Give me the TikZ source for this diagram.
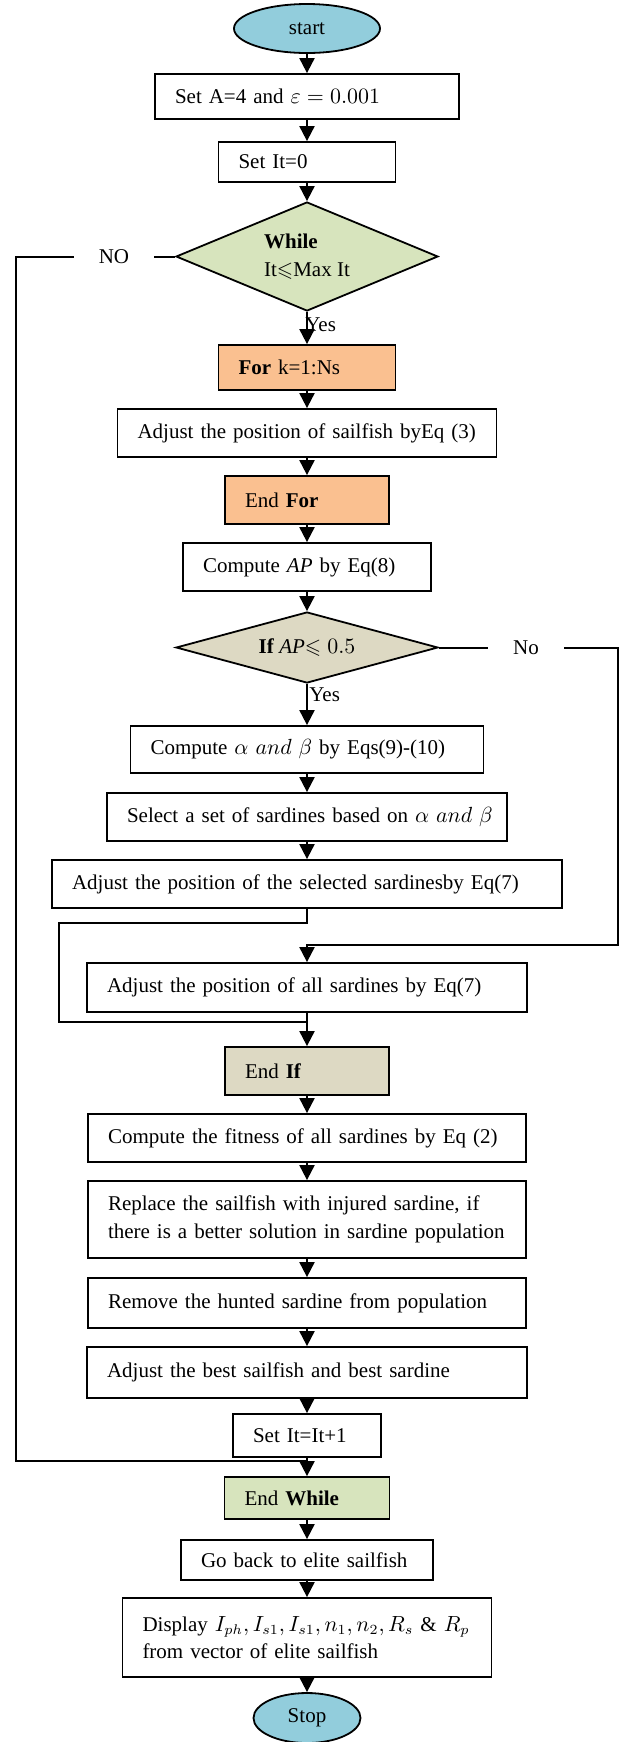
\documentclass[tikz,border=0pt]{standalone}
\usepackage{amsmath, amssymb}
\usepackage{fontspec}
\setmainfont{Liberation Serif}
\usepackage{tikz}
\usetikzlibrary{shapes.geometric, positioning, arrows.meta}
\definecolor{termblue}{RGB}{146,205,220}
\definecolor{loopgreen}{RGB}{215,228,189}
\definecolor{forpeach}{RGB}{250,192,144}
\definecolor{iftan}{RGB}{221,217,195}
\tikzset{
    flow box/.style = {draw, rectangle, line width=0.9pt, align=left, inner xsep=10pt, inner ysep=0pt},
    term/.style = {draw, ellipse, line width=0.9pt, fill=termblue, inner sep=0pt},
    cond/.style = {draw, diamond, line width=0.9pt, align=left, inner sep=0pt},
}
\tikzset{
    flow/.style = {draw, line width=1pt, -{Triangle[width=7.5pt, length=7.5pt]}},
    loop line/.style = {draw, line width=1pt},
}

\begin{document}
\begin{tikzpicture}[x=0.5pt, y=-0.5pt, every node/.style={on grid, font=\fontsize{10.5}{13.8}\selectfont}]
    \useasboundingbox (0,0) rectangle (620,1742);

    \node (start) [term, minimum width=73pt, minimum height=24.5pt] at (307,28.5) {start};
    \node (setA) [flow box, text width=132pt, minimum height=22.5pt, below=34pt of start] {Set A=4 and $\varepsilon = 0.001$};
    \node (setIt) [flow box, text width=68.5pt, minimum height=20pt, below=32.75pt of setA] {Set It=0};
    \node (while) [cond, fill=loopgreen, aspect=2.4, minimum width=131pt, minimum height=54.5pt, below=47.25pt of setIt] {\textbf{While}\\It$\leqslant$Max It};
    \node (for) [flow box, fill=forpeach, text width=68.5pt, minimum height=22.5pt, below=55.5pt of while] {\textbf{For} k=1:Ns};
    \node (adjSail) [flow box, text width=169.5pt, minimum height=24pt, below=32.75pt of for] {Adjust the position of sailfish byEq (3)};
    \node (endFor) [flow box, fill=forpeach, text width=62pt, minimum height=24pt, below=33.5pt of adjSail] {End \textbf{For}};
    \node (compAP) [flow box, text width=104pt, minimum height=24pt, below=33.5pt of endFor] {Compute \textit{AP} by Eq(8)};
    \node (ifAP) [cond, fill=iftan, aspect=3.7, minimum width=131pt, minimum height=35.5pt, below=40.25pt of compAP] {\textbf{If} \textit{AP}$\leqslant 0.5$};
    \node (compAB) [flow box, text width=156.5pt, minimum height=23.5pt, below=51pt of ifAP] {Compute $\alpha\ and\ \beta$ by Eqs(9)-(10)};
    \node (select) [flow box, text width=180pt, minimum height=24pt, below=33.75pt of compAB] {\mbox{Select a set of sardines based on $\alpha\ and\ \beta$}};
    \node (adjSel) [flow box, text width=235pt, minimum height=24pt, below=33.5pt of select] {Adjust the position of the selected sardinesby Eq(7)};
    \node (adjAll) [flow box, text width=200pt, minimum height=24.5pt, below=51.75pt of adjSel] {Adjust the position of all sardines by Eq(7)};
    \node (endIf) [flow box, fill=iftan, text width=62pt, minimum height=24pt, below=41.75pt of adjAll] {End \textbf{If}};
    \node (fitness) [flow box, text width=199pt, minimum height=24pt, below=33.5pt of endIf] {Compute the fitness of all sardines by Eq (2)};
    \node (replace) [flow box, text width=199pt, minimum height=38.5pt, below=40.75pt of fitness] {Replace the sailfish with injured sardine, if\\there is a better solution in sardine population};
    \node (remove) [flow box, text width=199pt, minimum height=25pt, below=41.75pt of replace] {Remove the hunted sardine from population};
    \node (adjBest) [flow box, text width=200pt, minimum height=25.5pt, below=34.75pt of remove] {Adjust the best sailfish and best sardine};
    \node (setIt1) [flow box, text width=54pt, minimum height=21.5pt, below=31.5pt of adjBest] {Set It=It+1};
    \node (endWhile) [flow box, fill=loopgreen, text width=62.5pt, minimum height=21pt, below=31.25pt of setIt1] {End \textbf{While}};
    \node (goBack) [flow box, text width=106pt, minimum height=20pt, below=31pt of endWhile] {Go back to elite sailfish};
    \node (display) [flow box, text width=164.5pt, minimum height=39.5pt, below=38.75pt of goBack] {\mbox{Display $I_{ph}, I_{s1}, I_{s1}, n_1, n_2, R_s$ \& $R_p$}\\from vector of elite sailfish};
    \node (stop) [term, minimum width=53.5pt, minimum height=25pt, below=40.25pt of display] {Stop};

    % branch labels
    \node (noWhile) [minimum width=40pt, inner sep=0pt] at (114,256.5) {NO};
    \node (noIf) [minimum width=38pt, inner sep=0pt] at (526,647.5) {No};
    \node (yesWhile) [anchor=west, inner sep=0pt] at (305,325) {Yes};
    \node (yesIf) [anchor=west, inner sep=0pt] at (309,695) {Yes};

    \coordinate (whileLeft) at (16,256.5);
    \coordinate (whileJoin) at (307,1461);
    \coordinate (ifRight) at (618,647.5);
    \coordinate (ifDrop) at (307,945);
    \coordinate (selLeft) at (59,923);
    \coordinate (selJoin) at (307,1022);

    \draw[flow] (start) -- (setA);
    \draw[flow] (setA) -- (setIt);
    \draw[flow] (setIt) -- (while);
    \draw[flow] (while) -- (for);
    \draw[flow] (for) -- (adjSail);
    \draw[flow] (adjSail) -- (endFor);
    \draw[flow] (endFor) -- (compAP);
    \draw[flow] (compAP) -- (ifAP);
    \draw[flow] (ifAP) -- (compAB);
    \draw[flow] (compAB) -- (select);
    \draw[flow] (select) -- (adjSel);
    \draw[flow] (adjAll) -- (endIf);
    \draw[flow] (endIf) -- (fitness);
    \draw[flow] (fitness) -- (replace);
    \draw[flow] (replace) -- (remove);
    \draw[flow] (remove) -- (adjBest);
    \draw[flow] (adjBest) -- (setIt1);
    \draw[flow] (setIt1) -- (endWhile);
    \draw[flow] (endWhile) -- (goBack);
    \draw[flow] (goBack) -- (display);
    \draw[flow] (display) -- (stop);

    % loops
    \draw[loop line] (while.west) -- (noWhile.east);
    \draw[loop line] (noWhile.west) -- (whileLeft) |- (whileJoin);
    \draw[loop line] (ifAP.east) -- (noIf.west);
    \draw[flow] (noIf.east) -- (ifRight) |- (ifDrop) -- (adjAll.north);
    \draw[loop line] (adjSel.south) |- (selLeft) |- (selJoin);
\end{tikzpicture}
\end{document}
